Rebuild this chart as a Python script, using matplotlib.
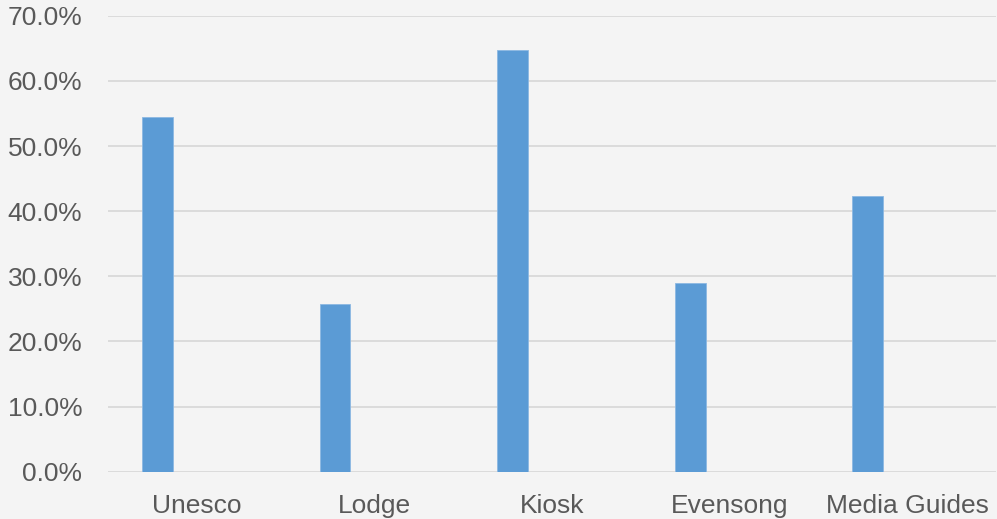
import numpy as np
import matplotlib.pyplot as plt
from matplotlib.ticker import PercentFormatter

categories = ['Unesco', 'Lodge', 'Kiosk', 'Evensong', 'Media Guides']
shares = [54.5, 25.8, 64.7, 29.0, 42.4]
y_ticks = [0, 10, 20, 30, 40, 50, 60, 70]

plt.rcParams['font.family'] = ['Liberation Sans', 'DejaVu Sans']

fig = plt.figure(figsize=(9.97, 5.19), dpi=100, facecolor='#f4f4f4')
ax = fig.add_axes([0.1083, 0.0911, 0.8907, 0.8786], facecolor='#f4f4f4')

x = np.arange(len(categories))
ax.bar(x - 0.222, shares, width=0.173, color='#5b9bd5',
       edgecolor='#8cb8e2', linewidth=0.6, zorder=3)

ax.set_xlim(-0.5, len(categories) - 0.5)
ax.set_ylim(0, 70)
ax.set_yticks(y_ticks)
ax.yaxis.set_major_formatter(PercentFormatter(decimals=1))
ax.set_xticks(x)
ax.set_xticklabels(categories)

ax.grid(axis='y', color='#d9d9d9', linewidth=1.3, zorder=0)
for side in ['top', 'right', 'left', 'bottom']:
    ax.spines[side].set_visible(False)
ax.tick_params(axis='both', length=0, labelsize=19, labelcolor='#595959')
ax.tick_params(axis='y', pad=18.5)
ax.tick_params(axis='x', pad=16)

fig.savefig('out.png', dpi=100, facecolor='#f4f4f4')
